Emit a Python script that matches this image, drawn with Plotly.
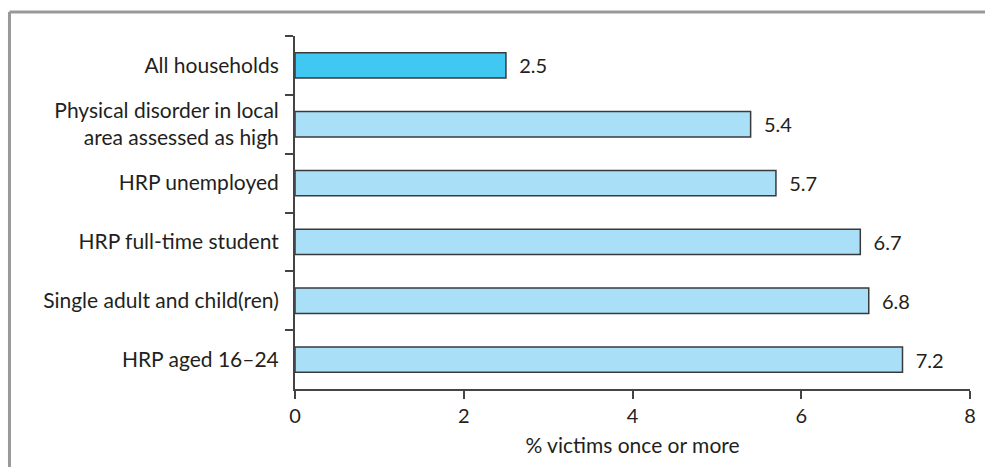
import plotly.graph_objects as go

categories = [
    "All households",
    "Physical disorder in local<br>area assessed as high",
    "HRP unemployed",
    "HRP full-time student",
    "Single adult and child(ren)",
    "HRP aged 16\u201324",
]
values = [2.5, 5.4, 5.7, 6.7, 6.8, 7.2]
bar_colors = ["#40C8F2", "#AADFF8", "#AADFF8", "#AADFF8", "#AADFF8", "#AADFF8"]
x_ticks = [0, 2, 4, 6, 8]
x_title = "% victims once or more"

FONT = "Lato"
TXT = "#231F20"
AX = "#444444"

fig = go.Figure(
    go.Bar(
        x=values,
        y=categories,
        orientation="h",
        marker=dict(color=bar_colors, line=dict(color="#3A3A3A", width=1.5)),
        width=0.43,
        text=["\u00a0\u00a0" + f"{v:.1f}" for v in values],
        textposition="outside",
        textfont=dict(family=FONT, size=20, color=TXT),
        cliponaxis=False,
    )
)

fig.update_layout(
    width=985,
    height=467,
    margin=dict(l=295, r=9, t=36, b=78),
    paper_bgcolor="white",
    plot_bgcolor="white",
    font=dict(family=FONT, size=20, color=TXT),
    showlegend=False,
    xaxis=dict(
        range=[0, 8],
        tickvals=x_ticks,
        showgrid=False,
        zeroline=False,
        showline=True,
        linecolor=AX,
        linewidth=2,
        ticks="outside",
        ticklen=8,
        tickwidth=2,
        tickcolor=AX,
        title=dict(text=x_title, standoff=12, font=dict(size=21)),
        tickfont=dict(size=20),
    ),
    yaxis=dict(
        autorange="reversed",
        showgrid=False,
        zeroline=False,
        showline=True,
        linecolor=AX,
        linewidth=2,
        ticks="outside",
        ticklen=8,
        tickwidth=2,
        tickcolor=AX,
        tickson="boundaries",
        ticklabelstandoff=10,
        tickfont=dict(size=21),
    ),
    shapes=[
        dict(type="line", xref="paper", yref="paper", x0=-0.423, x1=1.1, y0=1.068, y1=1.068,
             line=dict(color="#999999", width=3)),
        dict(type="line", xref="paper", yref="paper", x0=-0.423, x1=-0.423, y0=1.068, y1=-0.3,
             line=dict(color="#999999", width=3)),
    ],
)

fig.write_html(
    "out.html",
    config={"displayModeBar": False},
    post_script="document.body.style.margin='0';document.body.style.overflow='hidden';",
)
